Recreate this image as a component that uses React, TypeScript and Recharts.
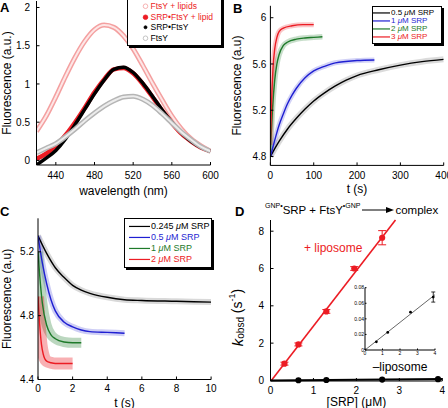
import React from "react";
import {
  LineChart,
  ComposedChart,
  Line,
  Scatter,
  XAxis,
  YAxis,
  ZAxis,
  Legend,
  Label,
  ErrorBar,
} from "recharts";

const FONT = "'Liberation Sans', Arial, Helvetica, sans-serif";
const RED = "#ec1c24";
const PINK = "#f4a0a0";
const GREY = "#b5b5b5";
const BLUE = "#1f1fd2";
const GREEN = "#1e7a2a";

// Panel A: emission spectra, fluorescence (a.u.) vs wavelength (nm)
const wavelengths = [420, 430, 440, 450, 460, 470, 480, 490, 500, 510, 520, 530, 540, 550, 560, 570, 580, 590, 600];
const ftsyLipids = [0.38, 0.58, 0.83, 1.1, 1.35, 1.56, 1.71, 1.77, 1.74, 1.63, 1.46, 1.24, 1.01, 0.79, 0.58, 0.41, 0.28, 0.19, 0.12];
const srpFtsyLipid = [0.02, 0.09, 0.19, 0.33, 0.5, 0.69, 0.89, 1.06, 1.19, 1.21, 1.14, 1.0, 0.83, 0.65, 0.49, 0.35, 0.25, 0.17, 0.12];
const srpFtsy = [-0.06, 0.03, 0.13, 0.28, 0.47, 0.67, 0.87, 1.05, 1.19, 1.22, 1.15, 1.01, 0.84, 0.66, 0.5, 0.36, 0.25, 0.17, 0.12];
const ftsyOnly = [0.1, 0.16, 0.22, 0.31, 0.41, 0.52, 0.62, 0.71, 0.78, 0.83, 0.84, 0.8, 0.72, 0.61, 0.49, 0.37, 0.27, 0.18, 0.12];
const spectrumNames = ["FtsY + lipids", "SRP•FtsY + lipid", "SRP•FtsY", "FtsY"];
const wavelengthTicks = [440, 480, 520, 560, 600];
const spectrumTicks = [0, 0.5, 1, 1.5, 2];

// Panel B: complex formation with lipids, fluorescence vs t (s)
const bTime05 = [0, 20, 40, 60, 80, 100, 125, 150, 175, 200, 250, 300, 350, 400];
const bFluo05 = [4.8, 4.93, 5.04, 5.13, 5.21, 5.28, 5.35, 5.41, 5.46, 5.5, 5.55, 5.59, 5.62, 5.64];
const bTime1 = [0, 10, 20, 30, 40, 50, 60, 80, 100, 125, 150, 200, 240];
const bFluo1 = [4.8, 4.94, 5.07, 5.17, 5.26, 5.33, 5.39, 5.48, 5.54, 5.58, 5.61, 5.63, 5.635];
const bTime2 = [0, 5, 10, 15, 20, 30, 40, 60, 80, 100, 120];
const bFluo2 = [4.85, 5.22, 5.46, 5.6, 5.68, 5.76, 5.79, 5.815, 5.825, 5.83, 5.835];
const bTime3 = [0, 3, 6, 10, 15, 20, 30, 50, 75, 100];
const bFluo3 = [4.9, 5.3, 5.56, 5.73, 5.83, 5.88, 5.91, 5.93, 5.94, 5.94];
const bConcs = ["0.5", "1", "2", "3"];
const bTimeTicks = [0, 100, 200, 300, 400];
const bFluoTicks = [4.8, 5.2, 5.6, 6];

// Panel C: faster traces, fluorescence vs t (s)
const cTime0245 = [0, 0.5, 1, 1.5, 2, 2.5, 3, 4, 5, 6, 8, 10];
const cFluo0245 = [5.3, 5.19, 5.1, 5.04, 4.99, 4.96, 4.94, 4.915, 4.9, 4.895, 4.89, 4.885];
const cTime05 = [0, 0.25, 0.5, 0.75, 1, 1.5, 2, 2.5, 3, 4, 5];
const cFluo05 = [5.3, 5.13, 5.0, 4.9, 4.83, 4.76, 4.73, 4.71, 4.7, 4.695, 4.69];
const cTime1 = [0, 0.1, 0.25, 0.5, 0.75, 1, 1.5, 2, 2.5];
const cFluo1 = [5.2, 5.05, 4.88, 4.74, 4.68, 4.655, 4.635, 4.63, 4.63];
const cTime2 = [0, 0.1, 0.2, 0.3, 0.5, 0.75, 1, 1.5, 2];
const cFluo2 = [4.92, 4.74, 4.62, 4.56, 4.515, 4.505, 4.5, 4.5, 4.5];
const cConcs = ["0.245", "0.5", "1", "2"];
const cTimeTicks = [0, 2, 4, 6, 8, 10];
const cFluoTicks = [4.4, 4.8, 5.2];

// Panel D: kobsd vs [SRP]
const srpWithLipo = [0.325, 0.65, 1.3, 1.95, 2.6];
const kWithLipo = [0.9, 1.93, 3.7, 6.0, 7.65];
const kWithLipoErr = [0.08, 0.08, 0.1, 0.1, 0.38];
const fitWithLipoX = [0.02, 2.91];
const fitWithLipoY = [0, 8.6];
const srpNoLipo = [0.65, 1.3, 2.6, 3.9];
const kNoLipo = [0.0105, 0.0225, 0.0485, 0.068];
const kNoLipoErr = [0, 0, 0, 0.0065];
const fitNoLipoX = [0, 4];
const fitNoLipoY = [0, 0.071];
const dSrpTicks = [0, 1, 2, 3, 4];
const dKTicks = [0, 2, 4, 6, 8];
const insetKTicks = [0, 0.02, 0.04, 0.06, 0.08];

const spectrumRows = wavelengths.map((w, i) => ({
  w,
  lipids: ftsyLipids[i],
  srpLipid: srpFtsyLipid[i],
  srp: srpFtsy[i],
  ftsy: ftsyOnly[i],
}));

const toRows = (xs: number[], ys: number[]) => xs.map((t, i) => ({ t, f: ys[i] }));
const toPoints = (xs: number[], ys: number[], errs: number[]) =>
  xs.map((c, i) => ({ c, k: ys[i], err: errs[i] }));
const toFit = (xs: number[], ys: number[]) => xs.map((c, i) => ({ c, k: ys[i] }));

// band = scatter of raw points around each fit, drawn as a faint wide stroke
const bSeries = [
  { conc: bConcs[0], rows: toRows(bTime05, bFluo05), color: "#000", band: 6, alpha: 0.14 },
  { conc: bConcs[1], rows: toRows(bTime1, bFluo1), color: BLUE, band: 5, alpha: 0.2 },
  { conc: bConcs[2], rows: toRows(bTime2, bFluo2), color: GREEN, band: 5.5, alpha: 0.25 },
  { conc: bConcs[3], rows: toRows(bTime3, bFluo3), color: RED, band: 5, alpha: 0.25 },
];
const cSeries = [
  { conc: cConcs[0], rows: toRows(cTime0245, cFluo0245), color: "#000", band: 6, alpha: 0.15 },
  { conc: cConcs[1], rows: toRows(cTime05, cFluo05), color: BLUE, band: 6, alpha: 0.22 },
  { conc: cConcs[2], rows: toRows(cTime1, cFluo1), color: GREEN, band: 10, alpha: 0.3 },
  { conc: cConcs[3], rows: toRows(cTime2, cFluo2), color: RED, band: 12, alpha: 0.35 },
];

const axisLine = { stroke: "#000", strokeWidth: 1 };
const tickStyle = { fontSize: 10, fill: "#000", fontFamily: FONT };
const labelProps = { fontSize: 12, fill: "#000", fontFamily: FONT };

type Marker = "open" | "filled" | "dot" | "line";
interface LegendRow {
  label: React.ReactNode;
  color: string;
  text: string;
  marker: Marker;
}

function BoxLegend({ rows, width, rowHeight, fontSize, markerFrom, markerTo }: {
  rows: LegendRow[];
  width: number;
  rowHeight: number;
  fontSize: number;
  markerFrom: number;
  markerTo: number;
}) {
  return (
    <div
      style={{
        width,
        boxSizing: "border-box",
        background: "#fff",
        border: "1px solid #000",
        boxShadow: "2px 2px 0 #000",
        fontFamily: FONT,
        fontSize,
        padding: "2px 0",
      }}
    >
      {rows.map((r, i) => (
        <div key={i} style={{ display: "flex", alignItems: "center", height: rowHeight, color: r.text, whiteSpace: "nowrap" }}>
          <svg width={markerTo + 1} height={rowHeight} style={{ flex: "none" }}>
            {r.marker === "line" ? (
              <line x1={markerFrom} x2={markerTo} y1={rowHeight / 2} y2={rowHeight / 2} stroke={r.color} strokeWidth={1.2} />
            ) : (
              <circle
                cx={(markerFrom + markerTo) / 2}
                cy={rowHeight / 2}
                r={r.marker === "dot" ? 1.5 : 2.3}
                fill={r.marker === "open" ? "#fff" : r.color}
                stroke={r.color}
                strokeWidth={0.8}
              />
            )}
          </svg>
          <span>{r.label}</span>
        </div>
      ))}
    </div>
  );
}

const concLabel = (c: string) => (
  <>
    {c} <i>μ</i>M SRP
  </>
);

function RateLabel(props: any) {
  const vb = props.viewBox || { x: 0, y: 0, width: 0, height: 0 };
  const cx = vb.x + 13;
  const cy = vb.y + vb.height / 2 + 17;
  return (
    <text
      x={cx}
      y={cy}
      transform={`rotate(-90 ${cx} ${cy})`}
      textAnchor="middle"
      dominantBaseline="central"
      fontSize={14}
      fontFamily={FONT}
      fill="#000"
    >
      <tspan fontStyle="italic" fontSize={15}>k</tspan>
      <tspan fontSize={10} dy={3}>obsd</tspan>
      <tspan dy={-3}> (s</tspan>
      <tspan fontSize={9} dy={-5}>-1</tspan>
      <tspan dy={5}>)</tspan>
    </text>
  );
}

const letter = (ch: string, left: number, top: number) => (
  <div style={{ position: "absolute", left, top, fontFamily: FONT, fontWeight: "bold", fontSize: 13, lineHeight: "13px" }}>
    {ch}
  </div>
);

export default function App() {
  const spectrumLegend: LegendRow[] = [
    { label: spectrumNames[0], color: PINK, text: RED, marker: "open" },
    { label: spectrumNames[1], color: RED, text: RED, marker: "filled" },
    { label: spectrumNames[2], color: "#000", text: "#000", marker: "dot" },
    { label: spectrumNames[3], color: GREY, text: "#000", marker: "open" },
  ];
  const bLegend: LegendRow[] = bSeries.map((s) => ({ label: concLabel(s.conc), color: s.color, text: s.color, marker: "line" }));
  const cLegend: LegendRow[] = cSeries.map((s) => ({ label: concLabel(s.conc), color: s.color, text: s.color, marker: "line" }));

  const lineBase = { dot: false, activeDot: false, isAnimationActive: false, type: "monotone" as const };

  return (
    <div style={{ position: "absolute", left: 0, top: 0, width: 448, height: 408, background: "#fff", overflow: "hidden", fontFamily: FONT }}>
      {/* Panel A */}
      <div style={{ position: "absolute", left: 0, top: 0 }}>
        <LineChart width={224} height={204} data={spectrumRows} margin={{ top: 1, right: 13.5, bottom: 0, left: 0 }}>
          <XAxis dataKey="w" type="number" domain={[420, 600]} ticks={wavelengthTicks} allowDataOverflow interval={0}
            height={39} tickSize={-3} tickMargin={10} tick={tickStyle} axisLine={axisLine} tickLine={axisLine}>
            <Label value="wavelength (nm)" position="insideBottom" offset={9} {...labelProps} />
          </XAxis>
          <YAxis type="number" domain={[-0.06, 2.085]} ticks={spectrumTicks} allowDataOverflow interval={0}
            width={36.5} tickSize={-3} tickMargin={9.5} tick={tickStyle} axisLine={axisLine} tickLine={axisLine}>
            <Label value="Fluorescence (a.u.)" position="insideLeft" angle={-90} offset={7} {...labelProps} style={{ textAnchor: "middle" }} />
          </YAxis>
          <XAxis xAxisId="top" orientation="top" type="number" domain={[0, 1]} allowDataOverflow height={0} tick={false} tickLine={false} axisLine={axisLine} />
          <YAxis yAxisId="right" orientation="right" type="number" domain={[0, 1]} allowDataOverflow width={0} tick={false} tickLine={false} axisLine={axisLine} />
          <Line {...lineBase} dataKey="lipids" stroke={PINK} strokeWidth={5} />
          <Line {...lineBase} dataKey="lipids" stroke="#fde6e6" strokeWidth={2} />
          <Line {...lineBase} dataKey="srpLipid" stroke={RED} strokeWidth={4.5} />
          <Line {...lineBase} dataKey="srp" stroke="#000" strokeWidth={3.5} />
          <Line {...lineBase} dataKey="ftsy" stroke={GREY} strokeWidth={5} />
          <Line {...lineBase} dataKey="ftsy" stroke="#ececec" strokeWidth={2} />
          <Legend layout="vertical" align="center" verticalAlign="middle" wrapperStyle={{ left: 126.5, top: -2 }}
            content={() => <BoxLegend rows={spectrumLegend} width={95} rowHeight={10.5} fontSize={8.5} markerFrom={13} markerTo={22} />} />
        </LineChart>
      </div>

      {/* Panel B */}
      <div style={{ position: "absolute", left: 224, top: 0 }}>
        <LineChart width={224} height={204} margin={{ top: 5.8, right: 4.3, bottom: 0, left: 0 }}>
          <XAxis dataKey="t" type="number" domain={[0, 400]} ticks={bTimeTicks} allowDataOverflow interval={0}
            height={38.6} tickSize={-3} tickMargin={9} tick={tickStyle} axisLine={axisLine} tickLine={axisLine}>
            <Label value="t (s)" position="insideBottom" offset={11} {...labelProps} />
          </XAxis>
          <YAxis type="number" domain={[4.723, 6.103]} ticks={bFluoTicks} allowDataOverflow interval={0}
            width={46.4} tickSize={-3} tickMargin={7} tick={tickStyle} axisLine={axisLine} tickLine={axisLine}>
            <Label value="Fluorescence (a.u)" position="insideLeft" angle={-90} offset={12.5} {...labelProps} style={{ textAnchor: "middle" }} />
          </YAxis>
          <XAxis xAxisId="top" orientation="top" type="number" domain={[0, 1]} allowDataOverflow height={0} tick={false} tickLine={false} axisLine={axisLine} />
          <YAxis yAxisId="right" orientation="right" type="number" domain={[0, 1]} allowDataOverflow width={0} tick={false} tickLine={false} axisLine={axisLine} />
          {bSeries.map((s) => (
            <Line key={"band" + s.conc} {...lineBase} data={s.rows} dataKey="f" stroke={s.color} strokeOpacity={s.alpha} strokeWidth={s.band} />
          ))}
          {bSeries.map((s) => (
            <Line key={"fit" + s.conc} {...lineBase} data={s.rows} dataKey="f" stroke={s.color} strokeWidth={1.4} />
          ))}
          <Legend layout="vertical" align="center" verticalAlign="middle" wrapperStyle={{ left: 148, top: 6 }}
            content={() => <BoxLegend rows={bLegend} width={70} rowHeight={7.9} fontSize={8} markerFrom={0} markerTo={17} />} />
        </LineChart>
      </div>

      {/* Panel C */}
      <div style={{ position: "absolute", left: 0, top: 204 }}>
        <LineChart width={224} height={204} margin={{ top: 14.3, right: 12.9, bottom: 0, left: 0 }}>
          <XAxis dataKey="t" type="number" domain={[0, 10]} ticks={cTimeTicks} allowDataOverflow interval={0}
            height={28.5} tickSize={-3} tickMargin={8.5} tick={tickStyle} axisLine={axisLine} tickLine={axisLine}>
            <Label value="t (s)" position="insideBottom" offset={1.5} {...labelProps} />
          </XAxis>
          <YAxis type="number" domain={[4.4, 5.41]} ticks={cFluoTicks} allowDataOverflow interval={0}
            width={38} tickSize={-3} tickMargin={7} tick={tickStyle} axisLine={axisLine} tickLine={axisLine}>
            <Label value="Fluorescence (a.u)" position="insideLeft" angle={-90} offset={7} {...labelProps} style={{ textAnchor: "middle" }} />
          </YAxis>
          <XAxis xAxisId="top" orientation="top" type="number" domain={[0, 1]} allowDataOverflow height={0} tick={false} tickLine={false} axisLine={axisLine} />
          <YAxis yAxisId="right" orientation="right" type="number" domain={[0, 1]} allowDataOverflow width={0} tick={false} tickLine={false} axisLine={axisLine} />
          {cSeries.map((s) => (
            <Line key={"band" + s.conc} {...lineBase} data={s.rows} dataKey="f" stroke={s.color} strokeOpacity={s.alpha} strokeWidth={s.band} />
          ))}
          {cSeries.map((s) => (
            <Line key={"fit" + s.conc} {...lineBase} data={s.rows} dataKey="f" stroke={s.color} strokeWidth={1.4} />
          ))}
          <Legend layout="vertical" align="center" verticalAlign="middle" wrapperStyle={{ left: 124, top: 14 }}
            content={() => <BoxLegend rows={cLegend} width={88} rowHeight={10.9} fontSize={9} markerFrom={4} markerTo={25} />} />
        </LineChart>
      </div>

      {/* Panel D */}
      <div style={{ position: "absolute", left: 224, top: 204 }}>
        <ComposedChart width={224} height={204} margin={{ top: 16, right: 5.7, bottom: 0, left: 0 }}>
          <XAxis dataKey="c" type="number" domain={[0, 4]} ticks={dSrpTicks} interval={0}
            height={27} tickSize={-3} tickMargin={8.6} tick={tickStyle} axisLine={axisLine} tickLine={axisLine}>
            <Label value="[SRP] (μM)" position="insideBottom" offset={2.5} {...labelProps} />
          </XAxis>
          <YAxis type="number" domain={[-0.03, 8.6]} ticks={dKTicks} interval={0}
            width={46.5} tickSize={-3} tickMargin={9.5} tick={tickStyle} axisLine={axisLine} tickLine={axisLine}>
            <Label content={(p: any) => <RateLabel {...p} />} />
          </YAxis>
          <XAxis xAxisId="top" orientation="top" type="number" domain={[0, 1]} allowDataOverflow height={0} tick={false} tickLine={false} axisLine={axisLine} />
          <YAxis yAxisId="right" orientation="right" type="number" domain={[0, 1]} allowDataOverflow width={0} tick={false} tickLine={false} axisLine={axisLine} />
          <ZAxis range={[30, 30]} />
          <Line {...lineBase} type="linear" data={toFit(fitWithLipoX, fitWithLipoY)} dataKey="k" stroke={RED} strokeWidth={1.6} />
          <Line {...lineBase} type="linear" data={toFit(fitNoLipoX, fitNoLipoY)} dataKey="k" stroke="#000" strokeWidth={2} />
          <Scatter data={toPoints(srpWithLipo, kWithLipo, kWithLipoErr)} dataKey="k" fill={RED} isAnimationActive={false}>
            <ErrorBar dataKey="err" direction="y" width={4} stroke={RED} strokeWidth={1} />
          </Scatter>
          <Scatter data={toPoints(srpNoLipo, kNoLipo, kNoLipoErr)} dataKey="k" fill="#000" isAnimationActive={false} />
        </ComposedChart>
      </div>

      {/* Panel D inset: without liposome */}
      <div style={{ position: "absolute", left: 345, top: 283 }}>
        <ComposedChart width={95} height={91} margin={{ top: 4.7, right: 5, bottom: 0, left: 0 }}>
          <XAxis dataKey="c" type="number" domain={[0, 4]} ticks={dSrpTicks} interval={0}
            height={24} tickSize={-1.5} tickMargin={3} tick={{ ...tickStyle, fontSize: 5 }} axisLine={axisLine} tickLine={axisLine}>
            <Label value="–liposome" position="insideBottom" offset={3} {...labelProps} />
          </XAxis>
          <YAxis type="number" domain={[0, 0.08]} ticks={insetKTicks} interval={0}
            width={20} tickSize={-1.5} tickMargin={2.5} tick={{ ...tickStyle, fontSize: 5 }} axisLine={axisLine} tickLine={axisLine} />
          <XAxis xAxisId="top" orientation="top" type="number" domain={[0, 1]} allowDataOverflow height={0} tick={false} tickLine={false}
            axisLine={{ stroke: "#777", strokeWidth: 2.5 }} />
          <YAxis yAxisId="right" orientation="right" type="number" domain={[0, 1]} allowDataOverflow width={0} tick={false} tickLine={false} axisLine={axisLine} />
          <ZAxis range={[6, 6]} />
          <Line {...lineBase} type="linear" data={toFit(fitNoLipoX, fitNoLipoY)} dataKey="k" stroke="#000" strokeWidth={0.6} />
          <Scatter data={toPoints(srpNoLipo, kNoLipo, kNoLipoErr)} dataKey="k" fill="#000" isAnimationActive={false}>
            <ErrorBar dataKey="err" direction="y" width={2} stroke="#000" strokeWidth={0.8} />
          </Scatter>
        </ComposedChart>
      </div>

      {/* Annotations */}
      {letter("A", 0, 1)}
      {letter("B", 233, 2)}
      {letter("C", 0, 205)}
      {letter("D", 235, 205)}
      <div style={{ position: "absolute", left: 304, top: 241, color: RED, fontSize: 12, lineHeight: "14px", whiteSpace: "nowrap" }}>
        + liposome
      </div>
      <div style={{ position: "absolute", left: 265, top: 203, fontSize: 11.5, lineHeight: "14px", whiteSpace: "nowrap", display: "flex", alignItems: "center" }}>
        <span style={{ fontSize: 7, position: "relative", top: -4 }}>GNP•</span>
        <span>SRP + FtsY</span>
        <span style={{ fontSize: 7, position: "relative", top: -4 }}>•GNP</span>
        <svg width={32} height={10} style={{ margin: "0 1px 0 2px" }}>
          <line x1={0} x2={26} y1={5} y2={5} stroke="#000" strokeWidth={1} />
          <polygon points="24,2 32,5 24,8" fill="#000" />
        </svg>
        <span>complex</span>
      </div>
    </div>
  );
}
